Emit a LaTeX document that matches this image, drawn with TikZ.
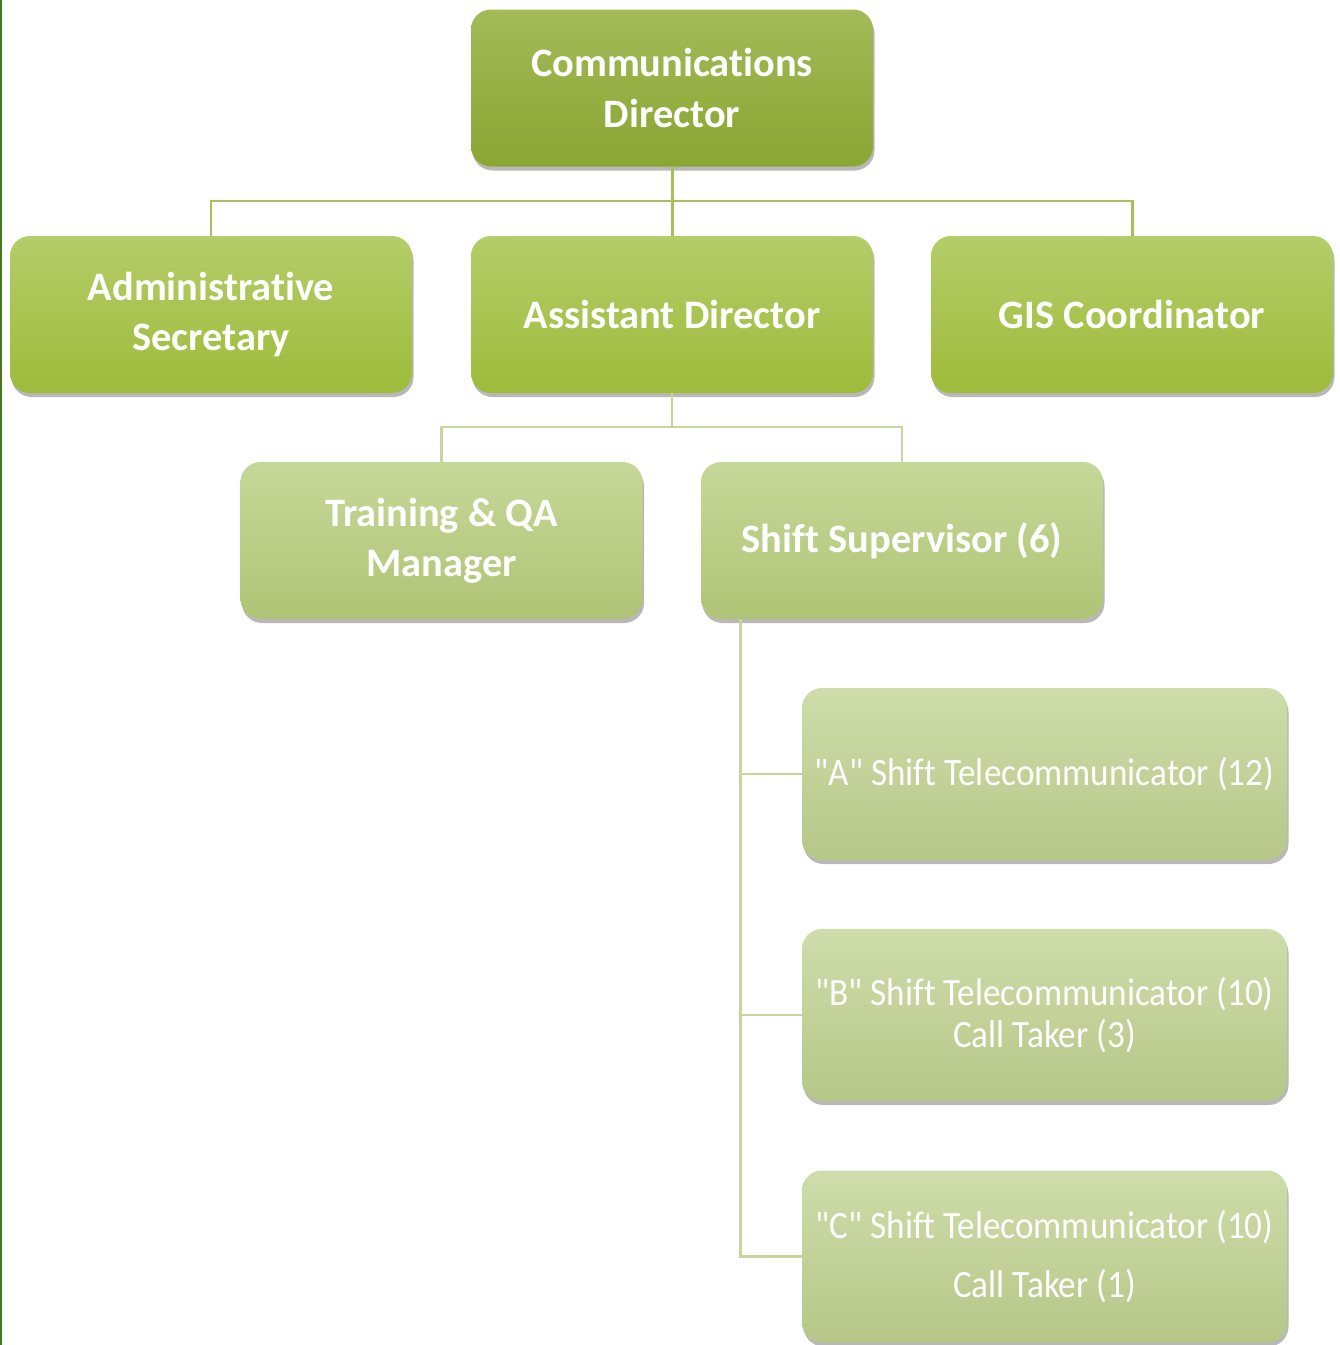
\documentclass[tikz,border=0pt]{standalone}
\usepackage{fontspec}
\setmainfont[Ligatures=NoCommon]{Carlito}
\newfontfamily\narrowfont[FakeStretch=0.91, Ligatures=NoCommon]{Carlito}
\usepackage{tikz}
\usetikzlibrary{calc, shadows}

\definecolor{lvlonetop}{RGB}{162,186,88}
\definecolor{lvlonebot}{RGB}{138,166,50}
\definecolor{lvltwotop}{RGB}{180,205,105}
\definecolor{lvltwobot}{RGB}{158,187,58}
\definecolor{lvlthreetop}{RGB}{198,216,152}
\definecolor{lvlthreebot}{RGB}{176,196,118}
\definecolor{lvlfourtop}{RGB}{206,221,170}
\definecolor{lvlfourbot}{RGB}{182,199,136}
\definecolor{linkdark}{RGB}{165,194,90}
\definecolor{linklight}{RGB}{197,214,158}
\definecolor{edgegreen}{RGB}{70,120,30}

\begin{document}
\begin{tikzpicture}[
    post/.style={rounded corners=0.4cm, text=white, align=center,
                 minimum width=8.04cm, minimum height=3.14cm,
                 font=\fontsize{23}{28.5}\selectfont\bfseries,
                 drop shadow={shadow xshift=0.03cm, shadow yshift=-0.08cm, opacity=0.35, fill=black!80}},
    lvlone/.style={post, top color=lvlonetop, bottom color=lvlonebot},
    lvltwo/.style={post, top color=lvltwotop, bottom color=lvltwobot},
    lvlthree/.style={post, top color=lvlthreetop, bottom color=lvlthreebot},
    lvlfour/.style={post, top color=lvlfourtop, bottom color=lvlfourbot,
                 minimum width=9.7cm, minimum height=3.44cm,
                 font=\fontsize{22}{24}\selectfont\narrowfont},
    linkup/.style={linkdark, line width=1.7pt},
    linkdown/.style={linklight, line width=1.5pt}
  ]
                \useasboundingbox (0,0) rectangle (26.8,-26.9);
                \draw[edgegreen, line width=1.5pt] (0.02,0) -- (0.02,-26.9);
                % boxes
                \node[lvlone] (dir) at (13.44,-1.76) {Communications\\Director};
                \node[lvltwo] (adm) at (4.22,-6.29) {Administrative\\Secretary};
                \node[lvltwo] (asst) at (13.44,-6.29) {Assistant Director};
                \node[lvltwo] (gis) at (22.64,-6.29) {GIS Coordinator};
                \node[lvlthree] (trn) at (8.83,-10.81) {Training \& QA\\Manager};
                \node[lvlthree] (sup) at (18.04,-10.81) {Shift Supervisor (6)};
                \node[lvlfour] (shA) at (20.89,-15.48) {"A" Shift Telecommunicator (12)};
                \node[lvlfour] (shB) at (20.89,-20.30) {"B" Shift Telecommunicator (10)\\Call Taker (3)};
                \node[lvlfour] (shC) at (20.89,-25.13) {"C" Shift Telecommunicator (10)\\[10pt]Call Taker (1)};
                % connectors
                \coordinate (busa) at (13.44,-4.02);
                \coordinate (busb) at (13.44,-8.54);
                \coordinate (spine) at ($(sup.south west)+(0.8,0)$);
                \draw[linkup] (dir.south) -- (asst.north);
                \draw[linkup] (adm.north) |- (busa) -| (gis.north);
                \draw[linkdown] (asst.south) -- (busb);
                \draw[linkdown] (trn.north) |- (busb) -| (sup.north);
                \draw[linkdown] (spine) |- (shA.west);
                \draw[linkdown] (spine) |- (shB.west);
                \draw[linkdown] (spine) |- (shC.west);
            \end{tikzpicture}
\end{document}
